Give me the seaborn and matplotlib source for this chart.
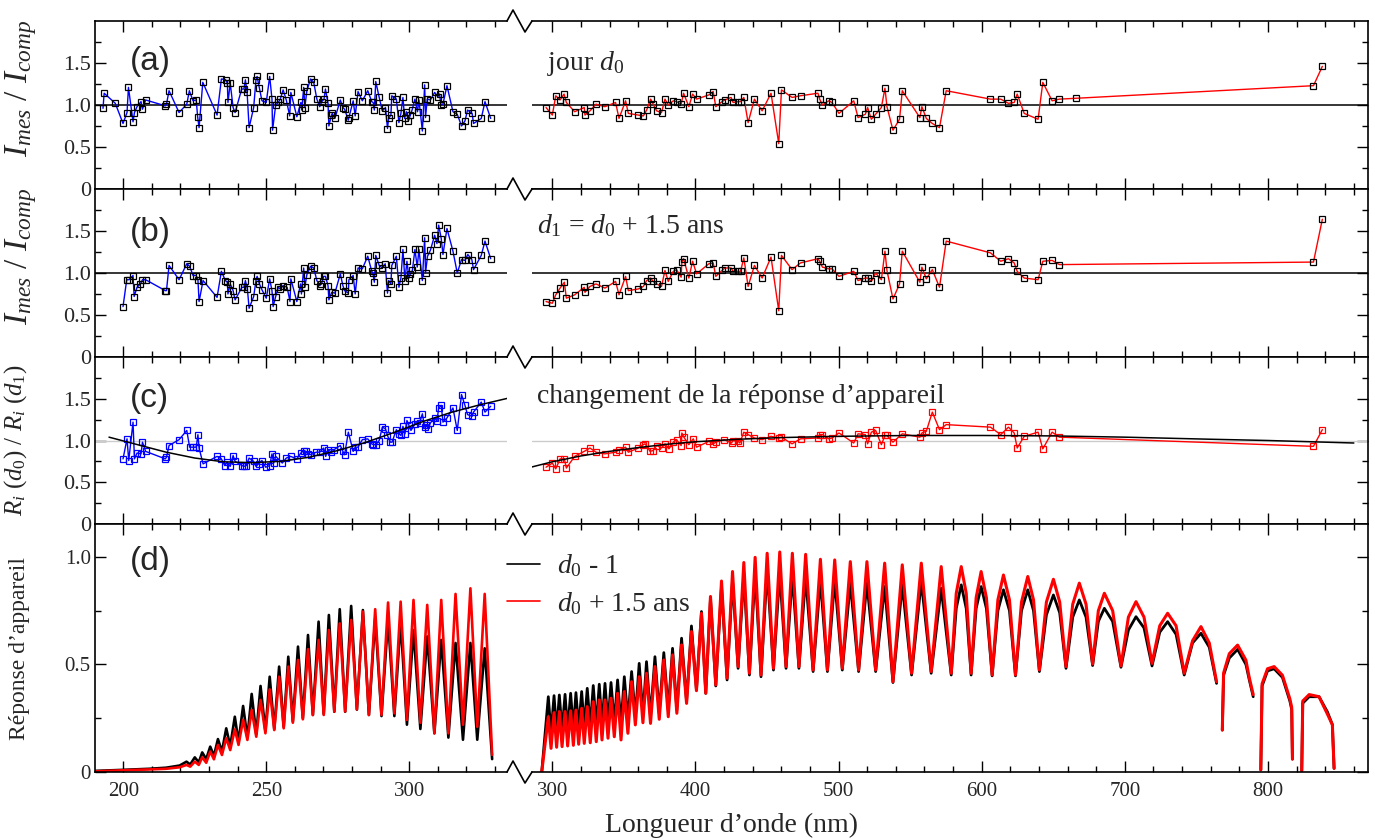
import numpy as np
import pandas as pd
import matplotlib
matplotlib.use('Agg')
import matplotlib.pyplot as plt
from matplotlib.lines import Line2D
from matplotlib.ticker import FixedLocator, MultipleLocator, FuncFormatter
import seaborn as sns

# ---------------- données ----------------
# (a) jour d0 : I_mes / I_comp
a_uv_wl = [192.9, 193.3, 197.2, 199.9, 201.3, 201.8, 203.4, 203.9, 204.8, 206.2, 206.7, 207.8, 214.7, 215.1, 216.0,
           219.5, 222.2, 223.1, 224.4, 225.5, 226.0, 226.5, 227.8, 232.8, 234.3, 235.8, 236.4, 236.6, 237.4, 238.4,
           239.1, 241.4, 242.2, 242.7, 243.3, 244.0, 245.6, 246.4, 246.8, 247.6, 248.5, 250.0, 251.2, 252.0, 252.2,
           253.3, 254.2, 254.9, 255.9, 257.0, 258.2, 258.6, 260.7, 262.1, 262.4, 263.1, 263.5, 264.2, 265.5, 266.6,
           267.7, 268.7, 269.4, 270.2, 270.7, 271.6, 271.9, 272.8, 273.1, 274.0, 275.9, 276.8, 277.4, 278.7, 278.9,
           280.4, 281.1, 282.1, 283.6, 285.5, 286.9, 287.4, 287.8, 288.3, 289.5, 290.6, 291.7, 292.4, 292.8, 293.6,
           293.9, 295.5, 296.4, 297.1, 297.8, 298.4, 299.0, 299.7, 300.4, 301.0, 302.0, 302.9, 303.4, 304.6, 305.4,
           305.7, 306.3, 307.4, 308.9, 310.0, 310.6, 311.1, 311.8, 313.2, 315.3, 316.8, 318.3, 319.5, 320.4, 322.0,
           322.5, 325.2, 326.5, 328.5]
a_uv_val = [0.96, 1.14, 1.02, 0.78, 0.91, 1.21, 0.80, 0.91, 0.98, 1.04, 0.95, 1.06, 0.99, 1.01, 1.17,
            0.91, 1.01, 1.17, 1.05, 1.06, 0.86, 0.73, 1.27, 0.88, 1.31, 1.30, 1.26, 1.03, 1.26, 0.97,
            0.91, 1.19, 1.19, 1.30, 1.15, 0.73, 0.97, 1.30, 1.34, 1.20, 1.05, 1.03, 1.34, 1.07, 0.70,
            1.00, 1.03, 1.07, 1.18, 1.06, 0.87, 1.15, 0.86, 1.03, 0.94, 1.21, 0.97, 1.17, 1.31, 1.27,
            1.07, 0.98, 1.04, 1.07, 1.19, 1.02, 0.75, 0.88, 0.90, 0.84, 1.06, 0.97, 0.95, 0.82, 0.85,
            1.05, 0.87, 1.16, 1.05, 1.17, 1.04, 1.03, 0.94, 1.28, 1.09, 0.93, 0.97, 0.72, 0.84, 0.88,
            1.11, 1.07, 0.79, 0.90, 1.09, 0.84, 0.92, 0.81, 0.88, 0.94, 1.07, 0.92, 1.06, 0.69, 1.24,
            0.85, 1.07, 1.06, 1.15, 1.10, 1.13, 1.00, 1.01, 1.23, 0.92, 0.89, 0.75, 0.81, 0.94, 0.90,
            0.78, 0.84, 1.04, 0.84]
a_vis_wl = [295.6, 300.0, 302.4, 305.4, 308.2, 309.8, 315.6, 322.3, 322.8, 326.3, 330.5, 336.8, 344.2, 346.6, 351.2,
            353.1, 360.1, 363.6, 365.9, 368.7, 370.5, 372.9, 376.3, 378.7, 381.0, 384.5, 386.8, 390.0, 391.7, 395.4,
            398.0, 400.8, 409.4, 412.4, 414.2, 418.6, 420.5, 424.9, 426.3, 429.8, 431.5, 433.8, 436.8, 441.2, 446.6,
            452.8, 458.2, 460.1, 467.5, 473.4, 485.6, 486.8, 488.7, 493.1, 495.4, 500.3, 510.6, 513.6, 518.7, 520.3,
            522.9, 525.9, 529.9, 532.4, 533.8, 538.0, 542.6, 544.5, 556.8, 558.2, 561.3, 565.5, 570.5, 575.2, 606.1,
            613.3, 618.7, 622.7, 624.8, 629.7, 639.4, 642.7, 649.2, 654.3, 665.9, 831.8, 838.0]
a_vis_val = [0.97, 0.88, 1.11, 1.06, 1.13, 1.03, 0.92, 0.97, 0.88, 0.93, 1.01, 0.98, 1.03, 0.84, 1.05,
             0.90, 0.88, 0.87, 0.94, 1.07, 1.01, 0.93, 0.91, 1.07, 1.00, 1.05, 1.04, 1.01, 1.14, 0.98,
             1.13, 1.07, 1.12, 1.16, 0.98, 1.04, 1.06, 1.09, 1.03, 1.04, 1.04, 1.09, 0.79, 1.07, 0.93,
             1.14, 0.54, 1.18, 1.09, 1.11, 1.14, 1.07, 1.00, 1.05, 1.03, 0.90, 1.05, 0.85, 0.89, 0.97,
             0.83, 0.89, 0.97, 1.20, 0.98, 0.70, 0.83, 1.17, 0.85, 0.98, 0.84, 0.78, 0.73, 1.17, 1.07,
             1.07, 1.02, 1.03, 1.13, 0.90, 0.83, 1.27, 1.05, 1.07, 1.08, 1.23, 1.46]

# (b) d1 = d0 + 1.5 ans
b_uv_wl = [199.9, 201.2, 202.0, 203.4, 203.8, 204.8, 206.0, 206.7, 207.8, 214.7, 215.1, 216.0, 219.5, 222.2, 223.2,
           224.4, 225.5, 226.1, 226.5, 227.9, 232.8, 234.3, 235.7, 236.4, 236.6, 237.4, 238.4, 239.1, 241.5, 242.2,
           242.7, 243.4, 244.0, 245.6, 246.4, 246.8, 247.6, 248.5, 250.0, 251.2, 252.0, 252.4, 253.3, 254.2, 254.9,
           255.9, 257.3, 258.3, 258.6, 260.7, 262.0, 262.3, 263.1, 263.5, 264.2, 265.5, 266.6, 267.7, 268.7, 269.3,
           270.1, 270.7, 271.6, 271.9, 272.9, 274.0, 275.9, 276.8, 277.4, 278.7, 278.9, 280.4, 281.1, 282.1, 283.6,
           285.5, 286.9, 287.3, 287.8, 288.3, 289.5, 290.6, 291.6, 292.4, 292.8, 293.6, 293.9, 295.5, 296.4, 297.1,
           297.8, 298.5, 299.2, 299.9, 300.4, 301.1, 302.0, 302.8, 303.4, 304.6, 305.4, 305.7, 306.4, 307.4, 308.9,
           309.7, 310.3, 311.2, 311.8, 313.2, 315.3, 316.8, 318.3, 319.5, 320.5, 321.9, 322.5, 325.2, 326.5, 328.5]
b_uv_val = [0.60, 0.92, 0.92, 0.97, 0.72, 0.83, 0.87, 0.92, 0.92, 0.79, 0.79, 1.09, 0.92, 1.11, 1.08,
            0.97, 0.97, 0.92, 0.66, 0.91, 0.71, 1.02, 0.91, 0.89, 0.75, 0.87, 0.79, 0.68, 0.83, 0.83,
            0.91, 0.81, 0.58, 0.72, 0.91, 0.96, 0.87, 0.80, 0.70, 0.93, 0.79, 0.60, 0.72, 0.83, 0.81,
            0.85, 0.83, 0.66, 0.93, 0.66, 0.87, 0.75, 1.06, 0.83, 0.98, 1.08, 1.06, 0.91, 0.85, 0.87,
            0.96, 0.96, 0.85, 0.68, 0.77, 0.76, 0.99, 0.85, 0.79, 0.76, 0.92, 0.97, 0.75, 1.06, 1.05,
            1.20, 1.02, 1.00, 0.89, 1.21, 1.09, 1.06, 1.11, 0.76, 0.91, 0.87, 1.09, 1.20, 0.83, 0.94,
            1.28, 0.91, 1.14, 0.94, 0.99, 1.03, 1.28, 1.07, 1.28, 0.91, 1.42, 1.00, 1.20, 1.27, 1.45,
            1.35, 1.57, 1.41, 1.22, 1.53, 1.26, 1.00, 1.16, 1.15, 1.22, 1.16, 1.04, 1.21, 1.38, 1.17]
b_vis_wl = [295.6, 300.0, 302.4, 305.4, 308.4, 309.8, 315.6, 322.3, 322.8, 326.3, 330.5, 336.8, 344.2, 346.6, 351.2,
            353.1, 360.1, 363.6, 365.9, 368.7, 370.5, 372.9, 376.3, 378.7, 381.0, 384.5, 386.8, 390.0, 390.5, 391.7,
            395.4, 398.0, 400.8, 409.4, 412.4, 414.2, 418.6, 420.5, 424.9, 426.3, 429.8, 431.5, 433.8, 436.8, 441.2,
            446.6, 452.8, 458.2, 460.1, 467.5, 473.4, 485.6, 486.8, 488.7, 493.1, 495.4, 500.3, 510.6, 513.6, 518.7,
            520.3, 522.9, 525.9, 529.9, 532.4, 533.8, 538.0, 542.6, 544.5, 556.8, 558.2, 561.3, 565.5, 570.5, 575.2,
            606.1, 613.3, 618.7, 622.7, 624.8, 629.7, 639.4, 642.7, 649.2, 654.3, 831.8, 838.0]
b_vis_val = [0.66, 0.64, 0.74, 0.82, 0.89, 0.70, 0.74, 0.83, 0.77, 0.84, 0.87, 0.82, 0.90, 0.74, 0.96,
             0.79, 0.81, 0.84, 0.91, 0.94, 0.90, 0.87, 0.84, 1.03, 0.90, 1.02, 1.04, 0.95, 1.13, 1.17,
             0.94, 1.14, 0.99, 1.11, 1.12, 0.96, 1.03, 1.06, 1.06, 1.02, 1.02, 1.02, 1.18, 0.84, 1.09,
             0.94, 1.19, 0.55, 1.21, 1.04, 1.12, 1.17, 1.14, 1.07, 1.05, 1.05, 0.96, 1.02, 0.91, 0.94,
             0.94, 0.90, 1.00, 0.92, 1.26, 1.03, 0.69, 0.87, 1.26, 0.89, 1.07, 0.93, 1.04, 0.83, 1.38,
             1.24, 1.14, 1.17, 1.12, 1.02, 0.94, 0.92, 1.14, 1.15, 1.10, 1.13, 1.64]

# (c) R_i(d0) / R_i(d1) et ajustements
c_uv_wl = [199.9, 201.3, 201.9, 203.4, 203.9, 204.8, 206.2, 206.7, 207.8, 214.7, 215.1, 216.0, 219.5, 222.2, 223.2,
           224.4, 225.5, 226.1, 226.5, 227.9, 232.8, 234.3, 235.5, 236.3, 237.4, 238.4, 239.1, 241.5, 242.2, 243.0,
           244.0, 245.6, 246.4, 247.3, 248.5, 249.8, 251.2, 252.0, 252.6, 253.3, 255.6, 257.0, 258.5, 260.7, 262.1,
           263.1, 263.8, 264.5, 265.6, 267.4, 268.7, 270.1, 270.8, 271.6, 272.8, 273.7, 275.9, 276.8, 277.4, 278.7,
           280.4, 281.1, 282.1, 283.6, 285.5, 286.9, 287.4, 288.3, 289.5, 290.6, 291.7, 292.4, 293.4, 294.0, 295.5,
           296.4, 297.1, 297.8, 298.5, 299.2, 299.9, 300.6, 302.0, 302.8, 303.6, 304.6, 305.4, 305.9, 306.6, 307.4,
           308.9, 309.7, 310.3, 311.2, 311.8, 313.2, 315.3, 316.8, 318.3, 319.5, 320.4, 322.0, 322.5, 325.2, 326.5,
           328.5]
c_uv_val = [0.78, 1.02, 0.76, 1.22, 0.78, 0.85, 0.84, 0.98, 0.87, 0.78, 0.80, 0.94, 1.01, 1.12, 0.92,
            0.92, 0.92, 1.07, 0.91, 0.72, 0.81, 0.78, 0.70, 0.74, 0.69, 0.82, 0.75, 0.70, 0.69, 0.70,
            0.79, 0.75, 0.69, 0.72, 0.76, 0.68, 0.70, 0.84, 0.73, 0.81, 0.73, 0.79, 0.81, 0.78, 0.85,
            0.88, 0.87, 0.84, 0.83, 0.86, 0.86, 0.91, 0.81, 0.89, 0.86, 0.89, 0.94, 0.87, 0.83, 1.10,
            0.87, 0.92, 0.92, 1.01, 1.02, 0.96, 0.95, 0.95, 1.00, 1.16, 1.14, 1.06, 0.98, 0.98, 1.13,
            1.08, 1.06, 1.17, 1.08, 1.24, 1.18, 1.12, 1.20, 1.23, 1.21, 1.32, 1.16, 1.19, 1.14, 1.21,
            1.27, 1.23, 1.39, 1.42, 1.22, 1.27, 1.39, 1.12, 1.55, 1.42, 1.31, 1.29, 1.34, 1.46, 1.34,
            1.41]
c_vis_wl = [295.6, 300.0, 302.4, 305.4, 308.4, 309.8, 315.6, 322.3, 326.3, 330.5, 336.8, 344.2, 346.6, 351.2, 353.1,
            360.1, 363.6, 364.8, 368.3, 370.5, 372.9, 376.3, 378.7, 381.5, 384.5, 386.8, 390.0, 390.5, 391.9, 395.4,
            398.5, 400.8, 409.4, 412.4, 414.2, 420.1, 425.2, 426.3, 429.8, 431.0, 433.8, 436.8, 441.2, 446.6, 452.8,
            458.2, 460.1, 467.5, 473.4, 485.6, 486.8, 488.7, 493.1, 495.4, 500.3, 510.6, 513.6, 518.7, 520.3, 522.9,
            525.9, 529.9, 532.4, 533.8, 538.0, 544.5, 556.8, 558.2, 561.3, 565.5, 570.5, 575.2, 606.1, 613.3, 618.7,
            622.7, 624.8, 629.7, 639.4, 642.7, 649.2, 654.3, 831.8, 838.0]
c_vis_val = [0.68, 0.73, 0.66, 0.78, 0.78, 0.67, 0.81, 0.87, 0.91, 0.86, 0.84, 0.86, 0.89, 0.92, 0.86,
             0.91, 0.95, 0.96, 0.87, 0.88, 0.94, 0.91, 0.96, 0.90, 0.98, 1.01, 0.94, 1.09, 1.04, 0.95,
             1.02, 0.92, 0.99, 0.96, 0.98, 1.01, 0.97, 1.00, 0.99, 0.97, 1.10, 1.07, 1.03, 1.01, 1.05,
             1.03, 1.04, 0.96, 1.02, 1.03, 1.07, 1.07, 1.02, 1.03, 1.09, 0.97, 1.08, 1.07, 0.96, 1.10,
             1.12, 0.95, 1.06, 1.06, 0.98, 1.08, 1.04, 1.09, 1.11, 1.34, 1.13, 1.19, 1.16, 1.07, 1.16,
             1.09, 0.91, 1.05, 1.10, 0.90, 1.10, 1.04, 0.93, 1.13]
c_fit_uv_wl = [195, 205, 215, 225, 235, 245, 255, 265, 275, 285, 295, 305, 315, 325, 335]
c_fit_uv_val = [1.04, 0.95, 0.86, 0.79, 0.745, 0.735, 0.75, 0.80, 0.88, 0.98, 1.10, 1.23, 1.34, 1.43, 1.51]
c_fit_vis_wl = [285, 300, 320, 340, 360, 380, 400, 430, 460, 500, 550, 600, 650, 700, 760, 800, 860]
c_fit_vis_val = [0.68, 0.745, 0.815, 0.87, 0.915, 0.955, 0.985, 1.015, 1.035, 1.05, 1.06, 1.06, 1.055, 1.04,
                 1.015, 1.0, 0.97]

# (d) réponse d'appareil : creux / sommets des ordres
d_uv_wl = [190.0, 200.0, 209.2, 215.0, 219.7, 222.1, 223.4, 225.0, 226.4, 227.6, 229.0, 230.4, 231.7, 233.1,
           234.5, 236.0, 237.4, 239.0, 240.3, 241.9, 243.4, 244.9, 246.5, 248.0, 249.7, 251.2, 252.8, 254.5,
           256.1, 257.7, 259.3, 261.1, 262.8, 264.6, 266.3, 268.3, 270.1, 271.9, 273.8, 275.7, 277.6, 279.7,
           281.7, 283.8, 285.9, 288.1, 290.3, 292.6, 294.8, 297.0, 299.2, 301.5, 303.9, 306.3, 308.8, 311.2,
           313.7, 316.2, 318.8, 321.4, 323.8, 326.4, 329.0]
d_uv_black = [0.005, 0.010, 0.015, 0.020, 0.030, 0.048, 0.035, 0.068, 0.045, 0.091, 0.060, 0.118, 0.075, 0.153,
              0.095, 0.203, 0.120, 0.257, 0.140, 0.307, 0.160, 0.363, 0.175, 0.400, 0.190, 0.443, 0.200, 0.490,
              0.210, 0.536, 0.235, 0.583, 0.250, 0.637, 0.265, 0.699, 0.270, 0.730, 0.280, 0.757, 0.280, 0.772,
              0.290, 0.753, 0.265, 0.715, 0.260, 0.710, 0.260, 0.699, 0.220, 0.660, 0.200, 0.630, 0.180, 0.614,
              0.160, 0.600, 0.150, 0.600, 0.150, 0.575, 0.060]
d_uv_red = [0.003, 0.008, 0.012, 0.015, 0.022, 0.033, 0.025, 0.048, 0.033, 0.068, 0.043, 0.095, 0.059, 0.126,
            0.079, 0.157, 0.102, 0.198, 0.126, 0.242, 0.149, 0.288, 0.164, 0.335, 0.180, 0.384, 0.195, 0.443,
            0.203, 0.490, 0.229, 0.521, 0.245, 0.571, 0.265, 0.614, 0.265, 0.660, 0.281, 0.691, 0.281, 0.707,
            0.291, 0.746, 0.265, 0.757, 0.265, 0.788, 0.273, 0.792, 0.242, 0.800, 0.229, 0.777, 0.180, 0.800,
            0.180, 0.828, 0.220, 0.854, 0.210, 0.828, 0.080]

nan = np.nan
d_vis_wl = [292.6, 297.2, 299.1, 301.2, 303.0, 304.9, 306.8, 308.9, 310.7, 312.8,
            314.7, 316.5, 318.4, 320.5, 322.3, 324.4, 326.5, 328.6, 330.7, 332.8,
            334.7, 336.8, 338.9, 341.0, 343.3, 345.6, 348.0, 350.3, 352.8, 355.4,
            358.0, 360.7, 363.3, 365.8, 368.6, 371.7, 374.7, 377.9, 381.0, 384.0,
            387.0, 390.3, 393.8, 397.2, 400.7, 404.2, 407.2, 410.5, 414.2, 418.2,
            422.1, 425.9, 429.8, 433.8, 437.7, 441.7, 445.8, 450.1, 454.5, 458.9,
            463.3, 467.7, 472.3, 477.0, 482.2, 487.3, 492.2, 497.3, 502.6, 508.2,
            514.0, 519.8, 525.9, 532.2, 538.0, 544.5, 551.0, 557.8, 564.7, 571.7,
            578.7, 582.2, 585.7, 589.2, 592.6, 596.1, 599.6, 603.3, 607.3, 611.3,
            615.2, 619.4, 623.6, 627.8, 632.2, 636.2, 640.3, 645.2, 650.1, 654.5,
            658.9, 663.6, 668.2, 672.9, 677.5, 681.5, 685.7, 691.5, 697.3, 702.5,
            707.8, 713.4, 719.0, 724.4, 729.9, 735.8, 741.5, 747.3, 753.2, 759.0,
            764.1,
            nan, 768.1, 769.0, 773.0, 778.8, 784.6, 786.9, 789.7,
            nan, 795.0, 795.9, 799.7, 804.3, 810.1, 815.3, 816.6, 817.1,
            nan, 823.6, 824.3, 828.8, 835.7, 841.5, 845.0, 846.2]
d_vis_red = [0.000, 0.257, 0.110, 0.276, 0.115, 0.281, 0.118, 0.281, 0.121, 0.284,
             0.124, 0.288, 0.129, 0.296, 0.133, 0.304, 0.136, 0.327, 0.141, 0.335,
             0.149, 0.335, 0.157, 0.343, 0.164, 0.366, 0.149, 0.374, 0.180, 0.420,
             0.219, 0.443, 0.229, 0.459, 0.226, 0.490, 0.245, 0.521, 0.257, 0.544,
             0.273, 0.591, 0.319, 0.653, 0.378, 0.738, 0.366, 0.816, 0.405, 0.888,
             0.436, 0.932, 0.490, 0.974, 0.459, 0.998, 0.451, 1.017, 0.482, 1.023,
             0.490, 1.017, 0.490, 1.012, 0.474, 0.989, 0.474, 0.986, 0.482, 0.978,
             0.474, 0.978, 0.474, 0.971, 0.420, 0.963, 0.459, 0.971, 0.467, 0.955,
             0.459, 0.830, 0.955, 0.830, 0.459, 0.810, 0.932, 0.810, 0.451, 0.800,
             0.916, 0.800, 0.451, 0.790, 0.909, 0.800, 0.474, 0.790, 0.896, 0.790,
             0.490, 0.780, 0.878, 0.780, 0.502, 0.750, 0.831, 0.750, 0.493, 0.720,
             0.792, 0.720, 0.505, 0.680, 0.738, 0.680, 0.459, 0.610, 0.676, 0.600,
             0.420,
             nan, 0.195, 0.46, 0.55, 0.59, 0.52, 0.44, 0.36,
             nan, 0.01, 0.41, 0.48, 0.49, 0.45, 0.34, 0.30, 0.06,
             nan, 0.006, 0.33, 0.36, 0.35, 0.27, 0.22, 0.017]
d_vis_black = [0.000, 0.350, 0.180, 0.355, 0.188, 0.358, 0.192, 0.361, 0.195, 0.366,
               0.198, 0.369, 0.203, 0.374, 0.208, 0.389, 0.211, 0.402, 0.214, 0.408,
               0.219, 0.412, 0.226, 0.416, 0.229, 0.428, 0.219, 0.443, 0.242, 0.467,
               0.257, 0.505, 0.265, 0.513, 0.257, 0.536, 0.273, 0.555, 0.288, 0.575,
               0.288, 0.622, 0.327, 0.679, 0.381, 0.746, 0.366, 0.808, 0.400, 0.862,
               0.428, 0.893, 0.482, 0.916, 0.451, 0.927, 0.443, 0.940, 0.474, 0.924,
               0.482, 0.916, 0.482, 0.909, 0.467, 0.893, 0.467, 0.893, 0.474, 0.878,
               0.467, 0.878, 0.467, 0.862, 0.416, 0.870, 0.451, 0.885, 0.459, 0.854,
               0.451, 0.760, 0.870, 0.760, 0.451, 0.760, 0.862, 0.760, 0.447, 0.750,
               0.847, 0.750, 0.447, 0.750, 0.847, 0.750, 0.467, 0.730, 0.823, 0.740,
               0.482, 0.720, 0.800, 0.720, 0.495, 0.700, 0.761, 0.700, 0.487, 0.660,
               0.722, 0.670, 0.493, 0.650, 0.699, 0.640, 0.451, 0.600, 0.645, 0.580,
               0.412,
               nan, 0.195, 0.45, 0.53, 0.57, 0.50, 0.43, 0.35,
               nan, 0.01, 0.40, 0.47, 0.48, 0.44, 0.33, 0.29, 0.06,
               nan, 0.006, 0.32, 0.35, 0.35, 0.28, 0.22, 0.017]

# ---------------- style ----------------
sns.set_theme(style='ticks')
plt.rcParams['font.family'] = ['Liberation Serif', 'DejaVu Serif']
plt.rcParams['mathtext.fontset'] = 'custom'
plt.rcParams['mathtext.rm'] = 'Liberation Serif'
plt.rcParams['mathtext.it'] = 'Liberation Serif:italic'
plt.rcParams['mathtext.bf'] = 'Liberation Serif:bold'
plt.rcParams['axes.linewidth'] = 1.2
plt.rcParams['axes.edgecolor'] = 'black'

W, H = 1375, 840
fig = plt.figure(figsize=(W / 100, H / 100), dpi=100)

XL_UV, XL_VIS = (190.1, 334.2), (285.8, 869.9)
X_UV, X_BRK, X_VIS, X_END = 95, 507, 532, 1368
rows = [(21, 189), (189, 357), (357, 524), (524, 772)]


def add_px_axes(x0, x1, ytop, ybot):
    return fig.add_axes([x0 / W, 1 - ybot / H, (x1 - x0) / W, (ybot - ytop) / H])


fmt = FuncFormatter(lambda v, p: '0' if abs(v) < 1e-9 else f'{v:.1f}')


def style_axes(ax, side, ytop, ymaj, ymin, last, ysize):
    ax.set_ylim(0, ytop)
    ax.yaxis.set_major_locator(FixedLocator(ymaj))
    ax.yaxis.set_minor_locator(FixedLocator(ymin))
    ax.yaxis.set_major_formatter(fmt)
    if side == 'uv':
        ax.set_xlim(*XL_UV)
        ax.xaxis.set_major_locator(MultipleLocator(50))
        ax.xaxis.set_minor_locator(MultipleLocator(10))
        ax.spines['right'].set_visible(False)
        ax.tick_params(axis='y', which='both', left=True, right=False, labelleft=True, labelright=False)
    else:
        ax.set_xlim(*XL_VIS)
        ax.xaxis.set_major_locator(MultipleLocator(100))
        ax.xaxis.set_minor_locator(MultipleLocator(20))
        ax.spines['left'].set_visible(False)
        ax.tick_params(axis='y', which='both', left=False, right=True, labelleft=False, labelright=False)
    ax.tick_params(axis='x', which='both', top=True, bottom=True, labelbottom=last, labeltop=False,
                   labelsize=15, pad=7)
    ax.tick_params(axis='y', labelsize=ysize, pad=3)
    ax.tick_params(which='both', direction='in', width=1.0, color='black')
    ax.tick_params(which='major', length=8)
    ax.tick_params(which='minor', length=4)
    ax.set_xlabel('')
    ax.set_ylabel('')
    for s in ax.spines.values():
        s.set_color('black')


def marker_series(ax, wl, val, color, edge):
    sns.lineplot(x=wl, y=val, ax=ax, color=color, lw=1.0, marker='s', ms=3.8, mec=edge,
                 mfc='none', mew=0.9, estimator=None, sort=False, zorder=3)


axes = []
for r, (yt, yb) in enumerate(rows):
    axes.append((add_px_axes(X_UV, X_BRK, yt, yb), add_px_axes(X_VIS, X_END, yt, yb)))

# (a) and (b)
for (ax_uv, ax_vis), uv, vis in [(axes[0], (a_uv_wl, a_uv_val), (a_vis_wl, a_vis_val)),
                                 (axes[1], (b_uv_wl, b_uv_val), (b_vis_wl, b_vis_val))]:
    for ax in (ax_uv, ax_vis):
        ax.axhline(1.0, color='black', lw=1.1, zorder=1)
    marker_series(ax_uv, uv[0], uv[1], '#0000ff', 'black')
    marker_series(ax_vis, vis[0], vis[1], '#ff0000', 'black')

# (c)
ax_uv, ax_vis = axes[2]
for ax in (ax_uv, ax_vis):
    ax.axhline(1.0, color='#cccccc', lw=1.0, zorder=1)
marker_series(ax_uv, c_uv_wl, c_uv_val, '#0000ff', '#0000ff')
marker_series(ax_vis, c_vis_wl, c_vis_val, '#ff0000', '#ff0000')
sns.lineplot(x=c_fit_uv_wl, y=c_fit_uv_val, ax=ax_uv, color='black', lw=1.1, estimator=None, sort=False, zorder=4)
sns.lineplot(x=c_fit_vis_wl, y=c_fit_vis_val, ax=ax_vis, color='black', lw=1.1, estimator=None, sort=False,
             zorder=4)

# (d)
ax_uv, ax_vis = axes[3]
df_uv = pd.DataFrame({'wl': d_uv_wl, 'black': d_uv_black, 'red': d_uv_red})
sns.lineplot(data=df_uv, x='wl', y='black', ax=ax_uv, color='black', lw=1.9, estimator=None, sort=False)
sns.lineplot(data=df_uv, x='wl', y='red', ax=ax_uv, color='#ff0000', lw=1.9, estimator=None, sort=False)
df_vis = pd.DataFrame({'wl': d_vis_wl, 'black': d_vis_black, 'red': d_vis_red})
df_vis['seg'] = df_vis['wl'].isna().cumsum()
df_vis = df_vis.dropna()
sns.lineplot(data=df_vis, x='wl', y='black', units='seg', ax=ax_vis, color='black', lw=2.0, estimator=None,
             sort=False)
sns.lineplot(data=df_vis, x='wl', y='red', units='seg', ax=ax_vis, color='#ff0000', lw=2.2, estimator=None,
             sort=False)

# axes styling
for r, (ax_uv, ax_vis) in enumerate(axes):
    last = r == 3
    if last:
        ytop, ymaj, ymin, ysize = 1.153, [0, 0.5, 1.0], [0.25, 0.75], 15
    else:
        ytop, ymaj, ymin, ysize = 2.0, [0, 0.5, 1.0, 1.5], [0.25, 0.75, 1.25, 1.75], 16
    style_axes(ax_uv, 'uv', ytop, ymaj, ymin, last, ysize)
    style_axes(ax_vis, 'vis', ytop, ymaj, ymin, last, ysize)

# panel letters
for (ax_uv, _), lab, yy in zip(axes, ['(a)', '(b)', '(c)', '(d)'], [0.756, 0.744, 0.754, 0.847]):
    ax_uv.text(0.085, yy, lab, transform=ax_uv.transAxes, fontsize=24, family='Liberation Sans', va='center')

# y labels
ylab_specs = [(r'$I_{mes}$ / $I_{comp}$', 24, -0.135, 0.6),
              (r'$I_{mes}$ / $I_{comp}$', 24, -0.135, 0.6),
              (r'$R_i$ ($d_{\mathit{0}}$) / $R_i$ ($d_{\mathit{1}}$)', 18, -0.16, 0.5),
              ('Réponse d’appareil', 17, -0.158, 0.5)]
for (ax_uv, _), (txt, fs, xc, yc) in zip(axes, ylab_specs):
    ax_uv.set_ylabel(txt, fontsize=fs)
    ax_uv.yaxis.set_label_coords(xc, yc)

# annotations
axes[0][1].text(296, 1.42, r'jour $d_{\mathit{0}}$', fontsize=20)
axes[1][1].text(289, 1.476, r'$d_{\mathit{1}}$ = $d_{\mathit{0}}$ + 1.5 ans', fontsize=20)
axes[2][1].text(289, 1.45, 'changement de la réponse d’appareil', fontsize=20)

handles = [Line2D([], [], color='black', lw=1.2), Line2D([], [], color='#ff0000', lw=1.2)]
axes[3][1].legend(handles, [r'$d_{\mathit{0}}$ - 1', r'$d_{\mathit{0}}$ + 1.5 ans'], loc='upper left',
                  bbox_to_anchor=(-0.03, 0.885), frameon=False, fontsize=20, handlelength=1.2,
                  handletextpad=0.6, labelspacing=0.38, borderpad=0, borderaxespad=0)

# axis breaks (zigzags between the two wavelength ranges)
for y in [21, 189, 357, 524, 772]:
    xs = [X_BRK, X_BRK + 6, X_BRK + 18, X_VIS]
    ys = [y, y - 11, y + 11, y]
    fig.add_artist(Line2D([x / W for x in xs], [1 - v / H for v in ys], transform=fig.transFigure,
                          color='black', lw=1.2))

fig.text(731 / W, 1 - 832 / H, 'Longueur d’onde (nm)', ha='center', va='baseline', fontsize=20)

fig.savefig('out.png', dpi=100)
